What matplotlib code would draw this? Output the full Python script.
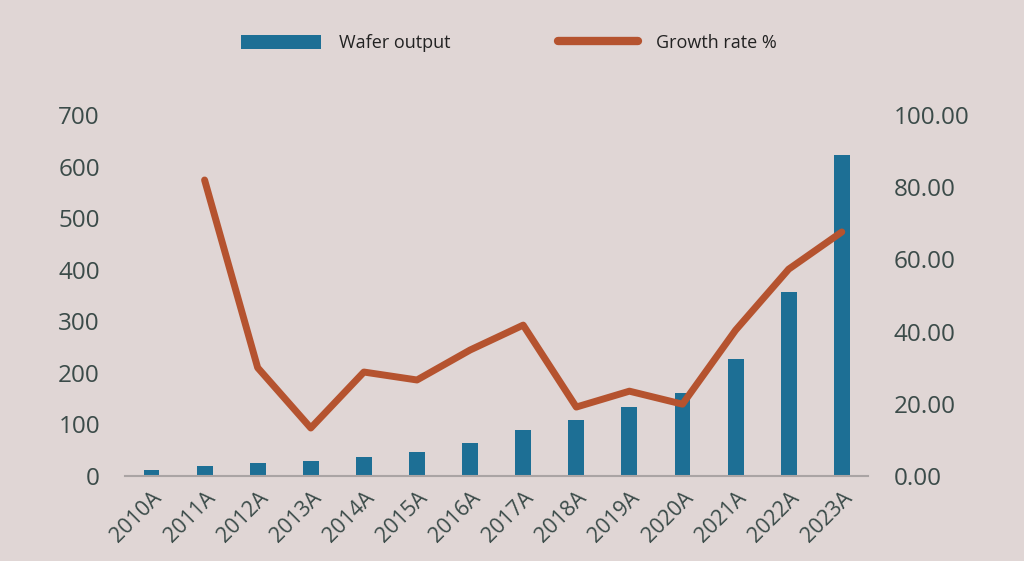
import matplotlib.pyplot as plt
from matplotlib.lines import Line2D
from matplotlib.patches import Patch

years = ["2010A", "2011A", "2012A", "2013A", "2014A", "2015A", "2016A",
         "2017A", "2018A", "2019A", "2020A", "2021A", "2022A", "2023A"]
wafer_output = [12, 19, 25, 29, 37, 46, 64, 89, 108, 134, 161, 227, 357, 622]
growth_years = years[1:]
growth_rate = [82.0, 30.0, 13.3, 28.8, 26.6, 34.9, 41.8, 19.1, 23.5, 19.9,
               40.4, 57.3, 67.6]

BG = "#e0d6d5"
BAR_COLOR = "#1d6f95"
LINE_COLOR = "#b5532f"
TEXT_COLOR = "#3b4b49"

plt.rcParams["font.family"] = ["Open Sans", "DejaVu Sans"]

fig = plt.figure(figsize=(10.24, 5.61), dpi=100, facecolor=BG)
ax = fig.add_axes([0.122, 0.1515, 0.726, 0.6435], facecolor=BG)
ax2 = ax.twinx()

x = list(range(len(years)))
ax.bar(x, wafer_output, width=0.3, color=BAR_COLOR, zorder=2)
ax2.plot(x[1:], growth_rate, color=LINE_COLOR, linewidth=5,
         solid_capstyle="round", solid_joinstyle="round", zorder=3)

ax.set_xlim(-0.5, len(years) - 0.5)
ax.set_ylim(0, 700)
ax2.set_ylim(0, 100)
ax.set_yticks(range(0, 701, 100))
ax2.set_yticks(range(0, 101, 20))
ax2.set_yticklabels([f"{v:.2f}" for v in range(0, 101, 20)])

ax.set_xticks(x)
ax.set_xticklabels(years, rotation=45, ha="right", rotation_mode="anchor")

for a in (ax, ax2):
    for s in a.spines.values():
        s.set_visible(False)
    a.tick_params(length=0, colors=TEXT_COLOR)
ax.spines["bottom"].set_visible(True)
ax.spines["bottom"].set_color("#aaa4a4")
ax.spines["bottom"].set_linewidth(1.5)

ax.tick_params(axis="y", labelsize=17.5, pad=18)
ax2.tick_params(axis="y", labelsize=17.5, pad=18)
ax.tick_params(axis="x", labelsize=15.5, pad=8)

handles = [
    Patch(facecolor=BAR_COLOR, label="Wafer output"),
    Line2D([0], [0], color=LINE_COLOR, linewidth=6, solid_capstyle="round",
           label="Growth rate %"),
]
fig.legend(handles=handles, loc="center", bbox_to_anchor=(0.497, 0.923),
           ncol=2, frameon=False, fontsize=13, handlelength=4.4,
           handleheight=0.85, columnspacing=6.0, handletextpad=1.0,
           labelcolor="#222222")

fig.savefig("out.png", dpi=100, facecolor=BG)
